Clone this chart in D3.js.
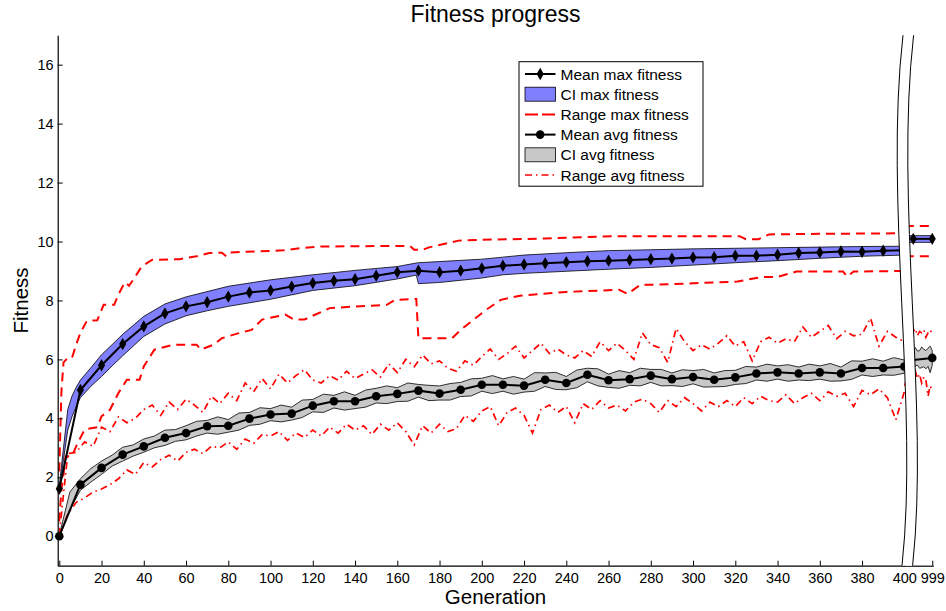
<!DOCTYPE html>
<html>
<head>
<meta charset="utf-8">
<script src="https://cdn.jsdelivr.net/npm/d3@7"></script>
<style>
  body { margin: 0; background: #fff; }
  svg { display: block; }
  text { font-family: "Liberation Sans", Arial, Helvetica, sans-serif; fill: #000; }
</style>
</head>
<body>
<svg id="chart" width="946" height="611"></svg>
<script>
// ---------------- data ----------------
// generations carrying a marker (every 10th generation)
const markerGens = [0,10,20,30,40,50,60,70,80,90,100,110,120,130,140,150,160,170,180,190,
  200,210,220,230,240,250,260,270,280,290,300,310,320,330,340,350,360,370,380,390,400];

// mean of the per-run maximum fitness
const meanMax = [1.61,4.96,5.80,6.52,7.12,7.56,7.80,7.94,8.13,8.27,8.34,8.47,8.59,8.67,8.72,8.84,8.96,9.01,8.96,9.01,
  9.09,9.18,9.22,9.26,9.30,9.33,9.35,9.37,9.40,9.42,9.46,9.47,9.52,9.52,9.55,9.61,9.63,9.66,9.65,9.69,9.70];

// mean of the per-run average fitness
const meanAvg = [0,1.75,2.32,2.77,3.05,3.34,3.50,3.73,3.75,3.99,4.13,4.16,4.43,4.58,4.58,4.75,4.83,4.94,4.84,4.97,
  5.14,5.14,5.11,5.31,5.20,5.48,5.29,5.33,5.45,5.33,5.40,5.31,5.39,5.52,5.56,5.52,5.56,5.52,5.71,5.71,5.76];

// confidence interval of the max fitness
const ciMaxGens = [0,2,4,6,8,10,15,20,25,30,40,50,60,70,80,100,120,140,160,169,170,180,200,210,220,240,260,280,300,320,340,360,380,400];
const ciMaxHi = [1.72,3.0,4.3,4.75,5.05,5.3,5.72,6.16,6.5,6.85,7.46,7.88,8.12,8.3,8.48,8.7,8.87,9.02,9.15,9.27,9.28,9.32,9.40,9.47,9.54,9.62,9.69,9.72,9.75,9.77,9.79,9.81,9.83,9.84];
const ciMaxLo = [1.5,2.6,3.6,4.05,4.4,4.7,5.09,5.42,5.78,6.12,6.78,7.2,7.48,7.65,7.8,8.04,8.34,8.5,8.73,8.86,8.57,8.61,8.76,8.87,8.92,8.99,9.06,9.12,9.2,9.28,9.35,9.43,9.5,9.54];

// best and worst run, max fitness: [generation, fitness]
const rangeMaxUpper = [[0,2.2],[1,4.9],[2,5.9],[4,6.05],[6,6.05],[8,6.5],[10,6.9],[13,7.3],[18,7.33],[21,7.85],[26,7.85],
  [28,8.2],[31,8.62],[33,8.5],[35,8.7],[39,9.15],[44,9.38],[57,9.4],[65,9.5],[71,9.61],[77,9.62],[79,9.5],[81,9.63],
  [106,9.7],[114,9.77],[123,9.83],[140,9.84],[166,9.85],[168,9.72],[172,9.72],[175,9.8],[189,10.03],[200,10.06],
  [230,10.1],[262,10.18],[322,10.18],[325,10.08],[331,10.08],[336,10.24],[360,10.26],[400,10.28]];
const rangeMaxLower = [[0,0.5],[1,1.6],[2,2.1],[3,2.71],[6,2.72],[8,3.05],[10,3.34],[12,3.62],[18,3.7],[20,4.07],[24,4.29],
  [28,4.86],[32,5.31],[38,5.31],[40,5.76],[45,6.33],[54,6.5],[65,6.5],[67,6.33],[73,6.5],[77,6.72],[85,6.89],[91,7.0],
  [96,7.35],[107,7.52],[111,7.35],[116,7.35],[119,7.45],[128,7.74],[139,7.79],[155,7.85],[159,8.02],[169,8.05],[170,6.72],
  [186,6.72],[190,7.0],[202,7.68],[209,8.02],[218,8.16],[240,8.29],[265,8.36],[269,8.22],[275,8.53],[281,8.53],[321,8.64],
  [332,8.79],[340,8.8],[349,8.98],[371,8.98],[373,8.81],[376,8.98],[400,9.0]];

// confidence interval of the average fitness, every 5th generation
const ciAvgStep = 5;
const ciAvgHi = [0.03,1.5,1.95,2.3,2.55,2.75,3.02,3.1,3.3,3.4,3.6,3.62,3.75,3.9,3.93,4.05,3.96,4.18,4.2,4.36,
  4.33,4.45,4.38,4.62,4.64,4.82,4.78,4.9,4.78,4.96,5.02,5.1,5.04,5.2,5.15,5.12,5.1,5.18,5.22,5.34,
  5.36,5.45,5.34,5.42,5.33,5.55,5.54,5.56,5.42,5.64,5.7,5.68,5.5,5.62,5.55,5.7,5.66,5.66,5.54,5.65,
  5.62,5.66,5.54,5.62,5.63,5.76,5.74,5.84,5.78,5.82,5.74,5.84,5.78,5.86,5.74,5.95,5.94,6.02,5.94,6.06,5.98];
const ciAvgLo = [0,0.9,1.56,1.84,2.1,2.38,2.55,2.72,2.85,3.0,3.08,3.22,3.27,3.4,3.5,3.46,3.53,3.6,3.76,3.8,
  3.92,3.88,3.94,4.03,4.22,4.2,4.35,4.28,4.33,4.38,4.52,4.5,4.57,4.58,4.72,4.6,4.62,4.62,4.74,4.76,
  4.92,4.84,4.92,4.82,4.89,4.92,5.08,4.98,4.97,5.04,5.24,5.1,5.05,5.02,5.12,5.1,5.22,5.1,5.11,5.08,
  5.17,5.06,5.07,5.08,5.15,5.18,5.3,5.26,5.33,5.26,5.3,5.28,5.33,5.26,5.27,5.32,5.47,5.42,5.47,5.46,5.53];

// best and worst run, average fitness, every 4th generation
const rangeAvgStep = 4;
const rangeAvgUpper = [0.05,2.8,2.85,3.2,3.05,3.7,3.55,4.05,3.85,4.0,4.3,4.45,4.1,4.55,4.3,4.65,4.45,4.2,4.75,4.5,
  4.85,4.6,5.2,4.9,5.35,5.0,5.5,5.2,5.45,5.65,5.3,5.2,5.45,5.3,5.6,5.35,5.5,5.65,5.4,5.85,
  5.55,6.0,5.75,6.15,5.85,5.95,5.7,5.6,5.95,5.8,6.1,6.35,6.0,6.2,6.45,6.05,6.3,6.55,6.2,6.35,
  6.15,6.05,6.3,6.1,6.6,6.3,6.55,6.3,6.0,6.9,6.5,6.4,5.9,7.05,6.6,6.3,6.5,6.35,6.55,6.8,
  6.45,6.6,5.95,6.6,6.75,6.55,6.7,6.6,7.1,6.75,6.95,7.15,6.7,6.95,6.8,6.85,7.4,6.45,6.95,6.75,6.6];
const rangeAvgLower = [0.0,0.75,1.15,1.3,1.5,1.6,1.75,1.95,2.25,2.1,2.5,2.35,2.6,2.75,2.55,2.85,2.95,2.8,3.05,3.0,
  3.2,2.95,3.3,3.15,3.45,3.4,3.55,3.25,3.5,3.35,3.6,3.4,3.7,3.5,3.8,3.6,3.75,3.45,3.8,3.6,
  3.85,3.55,3.1,3.75,3.5,3.8,3.55,3.65,4.1,3.9,4.25,4.4,3.75,4.2,4.35,4.1,3.5,4.3,4.45,4.2,
  4.4,3.85,4.5,4.3,4.6,4.35,4.45,4.25,4.55,4.65,4.5,4.2,4.6,4.4,4.7,4.5,4.25,4.55,4.4,4.6,
  4.4,4.7,4.5,4.75,4.6,4.55,4.8,4.5,4.7,4.85,4.6,4.9,4.75,4.85,4.4,4.95,4.8,5.0,4.7,3.95,4.9];

// final generations, shown right of the axis break
const lateGens = [986,987,988,989,990,991,992,993,994,995,996,997,998,999];
const lateMarkerGens = [990, 999];
const lateMeanMax = [10.09, 10.09];
const lateMeanAvgGens = [990, 999];
const lateMeanAvg = [5.98, 6.05];
const lateCiMaxHi = [10.2,10.2,10.2,10.2,10.2,10.2,10.2,10.2,10.2,10.2,10.2,10.2,10.2,10.2];
const lateCiMaxLo = [9.97,9.97,9.97,9.97,9.97,9.97,9.97,9.97,9.97,9.97,9.97,9.97,9.97,9.97];
const lateRangeMaxUpper = [10.53,10.53,10.53,10.53,10.53,10.53,10.53,10.53,10.53,10.53,10.53,10.53,10.53,10.53];
const lateRangeMaxLower = [9.5,9.5,9.5,9.5,9.5,9.5,9.5,9.5,9.5,9.5,9.5,9.5,9.5,9.5];
const lateCiAvgHi = [6.2,6.3,6.35,6.22,6.25,6.4,6.28,6.3,6.42,6.35,6.3,6.38,6.45,6.3];
const lateCiAvgLo = [5.7,5.62,5.75,5.7,5.65,5.78,5.8,5.7,5.72,5.75,5.68,5.76,5.55,5.8];
const lateRangeAvgUpper = [6.9,6.75,7.0,6.85,6.95,7.05,6.8,6.95,6.9,7.0,6.75,6.9,7.0,6.85];
const lateRangeAvgLower = [5.1,5.45,5.3,5.55,5.4,5.6,5.35,5.5,5.2,5.4,5.3,4.75,5.1,4.95];

// axis ticks
const yTicks = [0,2,4,6,8,10,12,14,16];
const xTicksEarly = [0,20,40,60,80,100,120,140,160,180,200,220,240,260,280,300,320,340,360,380,400];
const xTicksLate = [999];

const legendLabels = ["Mean max fitness","CI max fitness","Range max fitness","Mean avg fitness","CI avg fitness","Range avg fitness"];

// ---------------- styles ----------------
const BLUE = "#8080ff", GREY = "#c8c8c8", RED = "#ff0000";
const DASH = "9,6", DASHDOT = "7,4,1.5,4";

// ---------------- scales ----------------
const svg = d3.select("#chart");
const box = { left: 57.7, right: 933.3, top: 35.2, bottom: 565.7 };
const y = d3.scaleLinear().domain([-1, 17]).range([box.bottom, box.top]);
const xEarly = d3.scaleLinear().domain([-0.75, 400]).range([57.7, 904.3]);
const xLate = d3.scaleLinear().domain([985, 999.5]).range([902.7, 933.3]);

const zip = (gens, ...cols) => gens.map((g, i) => [g, ...cols.map(c => c[i])]);
const stepGens = (vals, step) => vals.map((_, i) => i * step);

const early = {
  x: xEarly,
  ciMax: zip(ciMaxGens, ciMaxLo, ciMaxHi),
  ciAvg: zip(stepGens(ciAvgHi, ciAvgStep), ciAvgLo, ciAvgHi),
  rMaxU: rangeMaxUpper, rMaxL: rangeMaxLower,
  rAvgU: zip(stepGens(rangeAvgUpper, rangeAvgStep), rangeAvgUpper),
  rAvgL: zip(stepGens(rangeAvgLower, rangeAvgStep), rangeAvgLower),
  meanMax: zip(markerGens, meanMax), maxMarks: zip(markerGens, meanMax),
  meanAvg: zip(markerGens, meanAvg), avgMarks: zip(markerGens, meanAvg)
};
const late = {
  x: xLate,
  ciMax: zip(lateGens, lateCiMaxLo, lateCiMaxHi),
  ciAvg: zip(lateGens, lateCiAvgLo, lateCiAvgHi),
  rMaxU: zip(lateGens, lateRangeMaxUpper), rMaxL: zip(lateGens, lateRangeMaxLower),
  rAvgU: zip(lateGens, lateRangeAvgUpper), rAvgL: zip(lateGens, lateRangeAvgLower),
  meanMax: zip(lateMarkerGens, lateMeanMax), maxMarks: zip(lateMarkerGens, lateMeanMax),
  meanAvg: zip(lateMeanAvgGens, lateMeanAvg), avgMarks: zip([999], [lateMeanAvg[1]])
};

const diamond = d3.symbol().type(d3.symbolDiamond).size(44);

function drawSegment(s) {
  const g = svg.append("g");
  const line = d3.line().x(d => s.x(d[0])).y(d => y(d[1]));
  const area = d3.area().x(d => s.x(d[0])).y0(d => y(d[1])).y1(d => y(d[2]));

  g.append("path").datum(s.ciMax).attr("d", area)
    .attr("fill", BLUE).attr("stroke", "#000").attr("stroke-width", 0.8);
  g.append("path").datum(s.ciAvg).attr("d", area)
    .attr("fill", GREY).attr("stroke", "#000").attr("stroke-width", 0.8);

  [s.rMaxU, s.rMaxL].forEach(d => g.append("path").datum(d).attr("d", line)
    .attr("fill", "none").attr("stroke", RED).attr("stroke-width", 2).attr("stroke-dasharray", DASH));
  [s.rAvgU, s.rAvgL].forEach(d => g.append("path").datum(d).attr("d", line)
    .attr("fill", "none").attr("stroke", RED).attr("stroke-width", 1.7).attr("stroke-dasharray", DASHDOT));

  g.append("path").datum(s.meanMax).attr("d", line)
    .attr("fill", "none").attr("stroke", "#000").attr("stroke-width", 2);
  g.selectAll(null).data(s.maxMarks).join("path")
    .attr("d", diamond).attr("transform", d => `translate(${s.x(d[0])},${y(d[1])})`)
    .attr("fill", "#000");

  g.append("path").datum(s.meanAvg).attr("d", line)
    .attr("fill", "none").attr("stroke", "#000").attr("stroke-width", 2);
  g.selectAll(null).data(s.avgMarks).join("circle")
    .attr("cx", d => s.x(d[0])).attr("cy", d => y(d[1])).attr("r", 4.3)
    .attr("fill", "#000");
}
drawSegment(early);
drawSegment(late);

// ---------------- axes ----------------
function styleAxis(g) {
  g.selectAll("path.domain").attr("stroke", "#000").attr("stroke-width", 1.2);
  g.selectAll(".tick line").attr("stroke", "#000").attr("stroke-width", 1);
  g.selectAll(".tick text").style("font-size", "14.5px").attr("fill", "#000");
}
svg.append("g").attr("transform", `translate(${box.left},0)`)
  .call(d3.axisLeft(y).tickValues(yTicks).tickFormat(d3.format("d"))
    .tickSizeInner(-5).tickSizeOuter(0).tickPadding(4))
  .call(styleAxis);
svg.append("g").attr("transform", `translate(0,${box.bottom})`)
  .call(d3.axisBottom(xEarly).tickValues(xTicksEarly).tickFormat(d3.format("d"))
    .tickSizeInner(-5).tickSizeOuter(0).tickPadding(7))
  .call(styleAxis);
svg.append("g").attr("transform", `translate(0,${box.bottom})`)
  .call(d3.axisBottom(xLate).tickValues(xTicksLate).tickFormat(d3.format("d"))
    .tickSizeInner(-5).tickSizeOuter(0).tickPadding(7))
  .call(styleAxis);

// ---------------- axis break ----------------
const gap = 10.6;
const breakCurve = dx => {
  const p = d3.path();
  p.moveTo(903 + dx, box.top);
  p.bezierCurveTo(884 + dx, 200, 919 + dx, 410, 902 + dx, box.bottom);
  return p.toString();
};
const breakFill =
  `M903,${box.top} C884,200 919,410 902,${box.bottom} ` +
  `L${902 + gap},${box.bottom} C${919 + gap},410 ${884 + gap},200 ${903 + gap},${box.top} Z`;
svg.append("path").attr("d", breakFill).attr("fill", "#fff").attr("stroke", "none");
[0, gap].forEach(dx => svg.append("path").attr("d", breakCurve(dx))
  .attr("fill", "none").attr("stroke", "#000").attr("stroke-width", 1));

// ---------------- legend ----------------
const lg = svg.append("g");
lg.append("rect").attr("x", 519).attr("y", 61.7).attr("width", 184).attr("height", 124.5)
  .attr("fill", "#fff").attr("stroke", "#000").attr("stroke-width", 1);
const rowY = i => 74 + i * 20.2;
const sx1 = 525, sx2 = 555.5, smid = 540.2;
legendLabels.forEach((t, i) => {
  lg.append("text").attr("x", 560.5).attr("y", rowY(i)).attr("dy", "0.36em")
    .style("font-size", "15.5px").text(t);
});
// row samples
lg.append("line").attr("x1", sx1).attr("x2", sx2).attr("y1", rowY(0)).attr("y2", rowY(0))
  .attr("stroke", "#000").attr("stroke-width", 2);
lg.append("path").attr("d", diamond).attr("transform", `translate(${smid},${rowY(0)})`).attr("fill", "#000");
lg.append("rect").attr("x", sx1).attr("y", rowY(1) - 7).attr("width", sx2 - sx1).attr("height", 14)
  .attr("fill", BLUE).attr("stroke", "#000").attr("stroke-width", 0.8);
lg.append("line").attr("x1", sx1).attr("x2", sx2).attr("y1", rowY(2)).attr("y2", rowY(2))
  .attr("stroke", RED).attr("stroke-width", 2).attr("stroke-dasharray", "13,4");
lg.append("line").attr("x1", sx1).attr("x2", sx2).attr("y1", rowY(3)).attr("y2", rowY(3))
  .attr("stroke", "#000").attr("stroke-width", 2);
lg.append("circle").attr("cx", smid).attr("cy", rowY(3)).attr("r", 4.3).attr("fill", "#000");
lg.append("rect").attr("x", sx1).attr("y", rowY(4) - 7).attr("width", sx2 - sx1).attr("height", 14)
  .attr("fill", GREY).attr("stroke", "#000").attr("stroke-width", 0.8);
lg.append("line").attr("x1", sx1).attr("x2", sx2).attr("y1", rowY(5)).attr("y2", rowY(5))
  .attr("stroke", RED).attr("stroke-width", 1.7).attr("stroke-dasharray", DASHDOT);

// ---------------- titles ----------------
const midX = (box.left + box.right) / 2;
svg.append("text").attr("x", midX).attr("y", 22).attr("text-anchor", "middle")
  .style("font-size", "23px").text("Fitness progress");
svg.append("text").attr("x", midX).attr("y", 604).attr("text-anchor", "middle")
  .style("font-size", "20.5px").text("Generation");
svg.append("text").attr("transform", `translate(28,${(box.top + box.bottom) / 2}) rotate(-90)`)
  .attr("text-anchor", "middle").style("font-size", "20.5px").text("Fitness");
</script>
</body>
</html>
